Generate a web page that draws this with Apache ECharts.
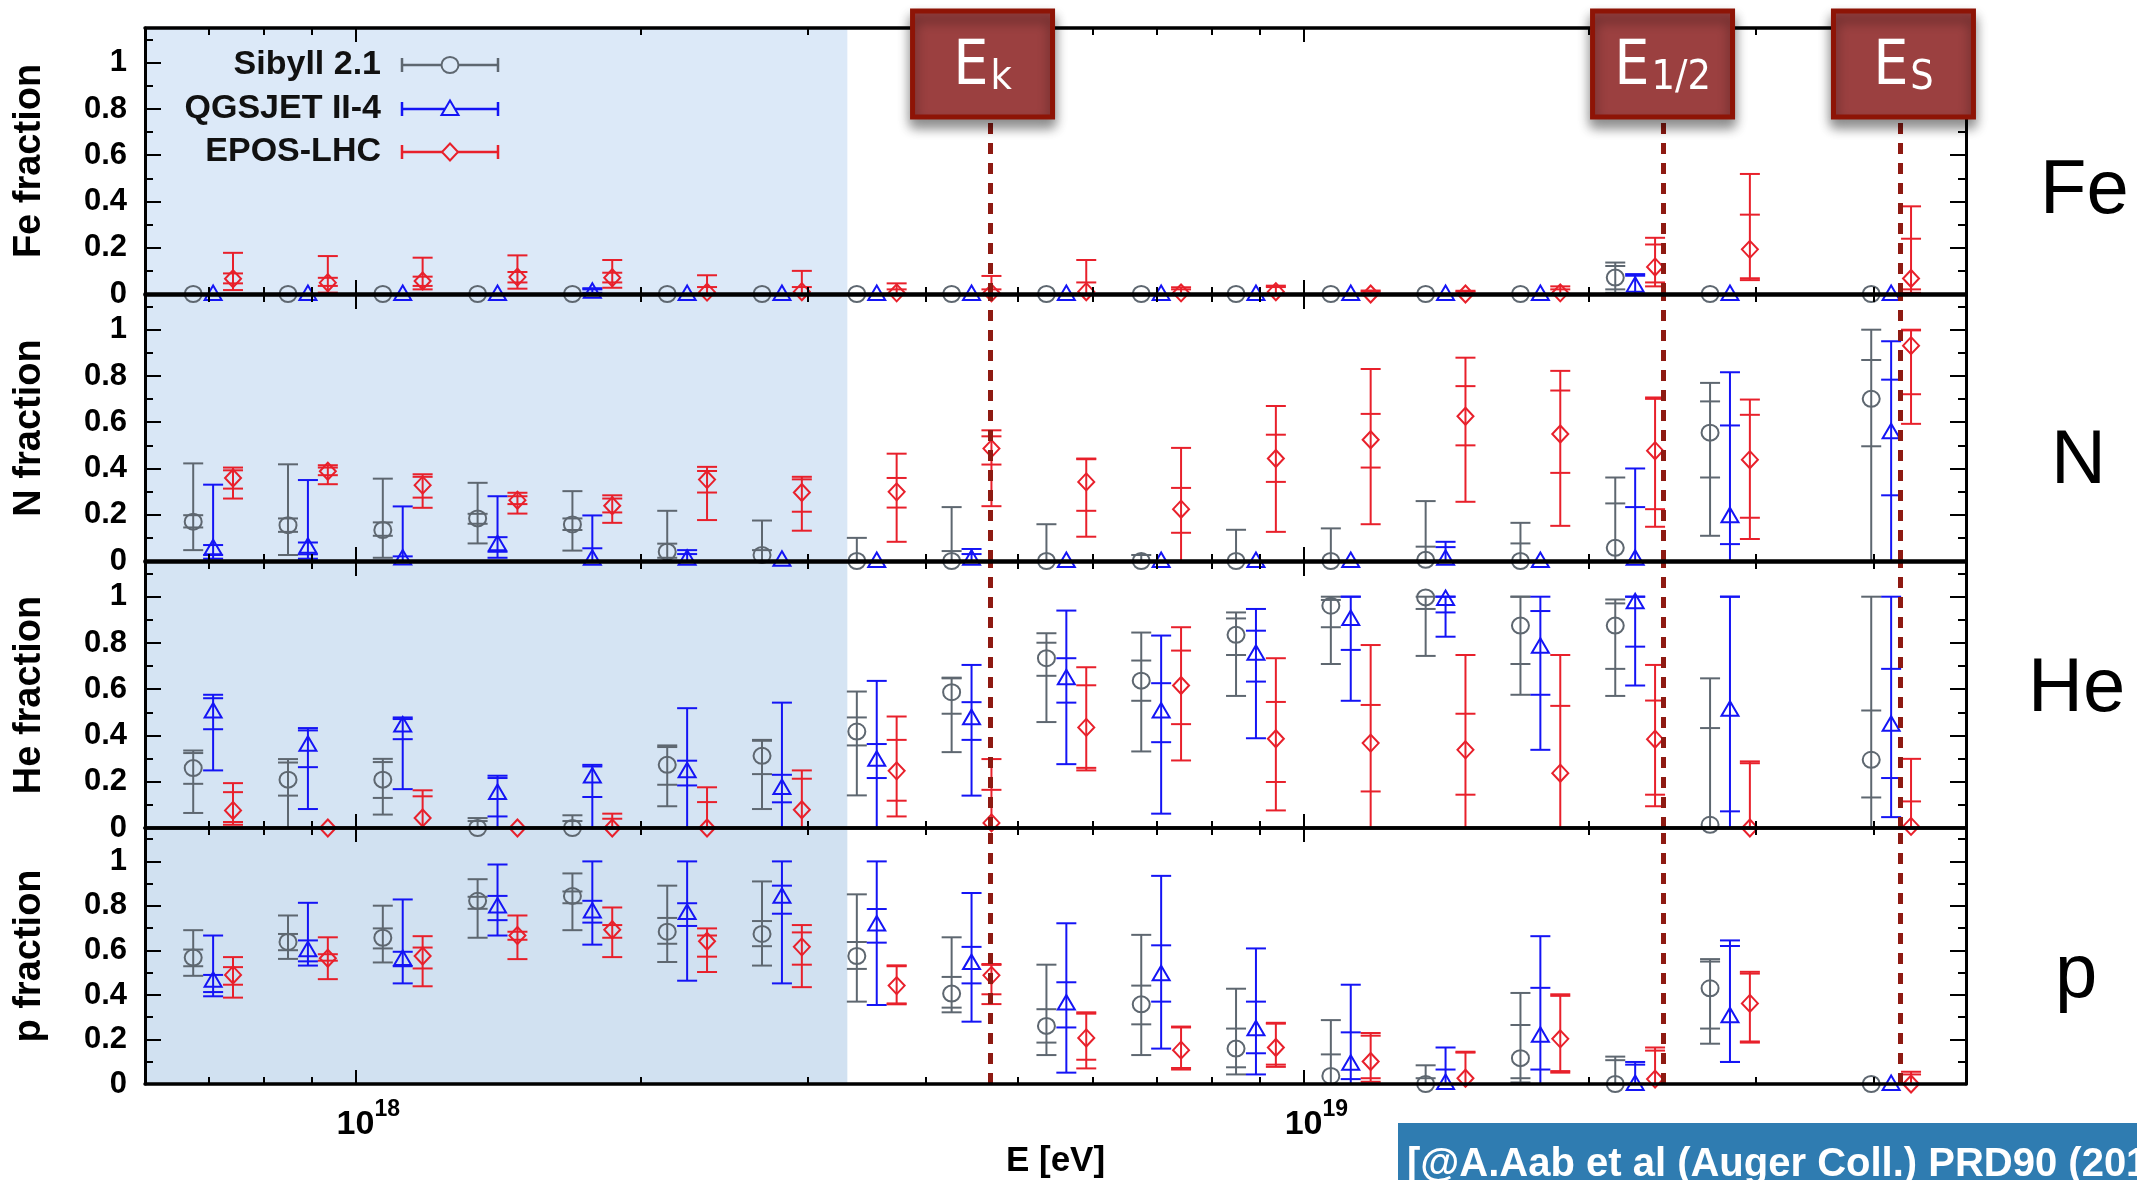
<!DOCTYPE html>
<html>
<head>
<meta charset="utf-8">
<script src="https://cdn.jsdelivr.net/npm/echarts@6/dist/echarts.min.js"></script>
<style>
  html, body { margin: 0; padding: 0; background: #fff; }
  #chart { width: 2137px; height: 1180px; }
</style>
</head>
<body>
<div id="chart"></div>
<script>
// Energy bins, log10(E/eV) bin centres
const lgE = [17.85, 17.95, 18.05, 18.15, 18.25, 18.35, 18.45, 18.55, 18.65,
             18.75, 18.85, 18.95, 19.05, 19.15, 19.25, 19.35, 19.45, 19.62];

const models = ['Sibyll 2.1', 'QGSJET II-4', 'EPOS-LHC'];
const panels = ['Fe', 'N', 'He', 'p'];

// Each point: [fraction, statLow, statHigh, totalLow, totalHigh]
const feSibyll = [[0,0,0,0,0],[0,0,0,0,0],[0,0,0,0,0],[0,0,0,0,0],[0,0,0,0,0],[0,0,0,0,0],
  [0,0,0,0,0],[0,0,0,0,0],[0,0,0,0,0],[0,0,0,0,0],[0,0,0,0,0],[0,0,0,0,0],[0,0,0,0,0],
  [0,0,0,0,0],[0,0,0,0,0],[0.071,0.02,0.121,0.005,0.136],[0,0,0,0,0],[0,0,0,0,0]];
const feQgsjet = [[0,0,0,0,0],[0,0,0,0,0],[0,0,0,0,0],[0,0,0,0,0],[0.01,0.005,0.02,0,0.025],
  [0,0,0,0,0],[0,0,0,0,0],[0,0,0,0,0],[0,0,0,0,0],[0,0,0,0,0],[0,0,0,0,0],[0,0,0,0,0],
  [0,0,0,0,0],[0,0,0,0,0],[0,0,0,0,0],[0.036,0,0.079,0,0.086],[0,0,0,0,0],[0,0,0,0,0]];
const feEpos = [[0.066,0.046,0.089,0.017,0.178],[0.049,0.035,0.07,0.006,0.164],
  [0.056,0.035,0.075,0.02,0.157],[0.073,0.05,0.095,0.023,0.167],[0.07,0.05,0.092,0.027,0.147],
  [0.008,0,0.03,0,0.081],[0.01,0,0.03,0,0.1],[0.005,0,0.02,0,0.046],[0.005,0,0.02,0,0.078],
  [0.01,0,0.05,0,0.147],[0.005,0,0.02,0,0.029],[0.01,0,0.03,0,0.036],[0,0,0.01,0,0.015],
  [0,0,0.01,0,0.014],[0.005,0,0.02,0,0.033],[0.117,0.05,0.214,0.033,0.243],
  [0.193,0.068,0.343,0.06,0.519],[0.067,0.02,0.239,0.005,0.379]];

const nSibyll = [[0.17,0.145,0.198,0.047,0.422],[0.155,0.126,0.184,0.026,0.418],
  [0.134,0.109,0.167,0.014,0.356],[0.184,0.161,0.204,0.076,0.338],[0.158,0.134,0.184,0.045,0.302],
  [0.04,0.014,0.075,0,0.217],[0.026,0,0.047,0,0.175],[0,0,0,0,0.1],[0,0,0.043,0,0.233],
  [0,0,0,0,0.159],[0,0,0,0,0.026],[0,0,0,0,0.135],[0,0,0,0,0.141],[0.005,0,0.062,0,0.259],
  [0,0,0.076,0,0.165],[0.057,0,0.249,0,0.361],[0.555,0.361,0.69,0.109,0.77],
  [0.701,0.496,0.869,0,1.0]];
const nQgsjet = [[0.055,0.026,0.069,0.01,0.33],[0.062,0.029,0.08,0.01,0.35],
  [0.011,0,0.02,0,0.236],[0.072,0.04,0.103,0.014,0.28],[0.01,0,0.055,0,0.197],
  [0.01,0,0.03,0,0.047],[0.005,0,0,0,0],[0,0,0,0,0],[0.01,0,0.03,0,0.052],[0,0,0,0,0],
  [0,0,0,0,0],[0,0,0,0,0],[0,0,0,0,0],[0.01,0,0.06,0,0.083],[0,0,0,0,0],
  [0.01,0,0.233,0,0.4],[0.194,0.073,0.586,0,0.816],[0.557,0.284,0.784,0,0.95]];
const nEpos = [[0.359,0.313,0.392,0.27,0.404],[0.388,0.371,0.404,0.332,0.414],
  [0.328,0.274,0.364,0.23,0.375],[0.263,0.246,0.28,0.205,0.295],[0.239,0.21,0.27,0.165,0.284],
  [0.352,0.296,0.389,0.177,0.407],[0.296,0.213,0.353,0.131,0.364],[0.299,0.231,0.359,0.083,0.464],
  [0.486,0.417,0.539,0.237,0.565],[0.342,0.217,0.44,0.105,0.443],[0.224,0.122,0.316,0,0.489],
  [0.443,0.342,0.546,0.126,0.67],[0.524,0.404,0.636,0.159,0.83],[0.626,0.5,0.756,0.256,0.879],
  [0.549,0.381,0.737,0.152,0.822],[0.477,0.224,0.701,0.148,0.707],[0.438,0.187,0.632,0.095,0.698],
  [0.931,0.721,0.997,0.593,1.0]];

const heSibyll = [[0.259,0.191,0.324,0.065,0.335],[0.209,0.14,0.283,0,0.298],
  [0.209,0.13,0.285,0.058,0.299],[0,0,0.03,0,0.043],[0,0,0.03,0,0.055],
  [0.273,0.187,0.35,0.094,0.357],[0.312,0.233,0.377,0.082,0.381],[0.417,0.357,0.478,0.141,0.59],
  [0.587,0.494,0.647,0.328,0.65],[0.734,0.658,0.801,0.458,0.842],[0.637,0.55,0.724,0.331,0.845],
  [0.835,0.748,0.906,0.571,0.932],[0.961,0.868,0.986,0.709,1.0],[0.997,0.947,1.0,0.744,1.0],
  [0.875,0.709,1.0,0.576,1.0],[0.875,0.688,0.971,0.571,0.988],[0.014,0,0.432,0,0.647],
  [0.295,0.132,0.508,0,1.0]];
const heQgsjet = [[0.504,0.427,0.561,0.249,0.576],[0.36,0.263,0.422,0.082,0.432],
  [0.443,0.384,0.471,0.168,0.478],[0.151,0.05,0.216,0,0.226],[0.223,0.134,0.266,0,0.273],
  [0.245,0.184,0.291,0,0.518],[0.173,0.111,0.23,0,0.542],[0.295,0.216,0.363,0,0.636],
  [0.475,0.381,0.544,0.14,0.705],[0.647,0.542,0.734,0.276,0.94],[0.504,0.371,0.626,0.062,0.832],
  [0.753,0.633,0.853,0.388,0.947],[0.904,0.77,1.0,0.55,1.0],[0.99,0.932,1.0,0.827,1.0],
  [0.784,0.576,0.938,0.338,1.0],[0.976,0.784,1.0,0.616,1.0],[0.511,0.072,1.0,0,1.0],
  [0.446,0.216,0.688,0.047,1.0]];
const heEpos = [[0.076,0.026,0.155,0.014,0.194],[0,0,0,0,0],[0.043,0,0.137,0,0.163],
  [0,0,0,0,0],[0,0,0.04,0,0.062],[0,0,0.112,0,0.176],[0.079,0,0.213,0,0.249],
  [0.247,0.118,0.381,0.05,0.482],[0.022,0,0.165,0,0.298],[0.435,0.26,0.617,0.249,0.695],
  [0.616,0.449,0.767,0.292,0.868],[0.386,0.199,0.545,0.076,0.734],[0.367,0.158,0.532,0,0.791],
  [0.338,0.144,0.494,0,0.748],[0.237,0,0.528,0,0.748],[0.384,0.144,0.551,0.094,0.705],
  [0,0,0.28,0,0.288],[0.007,0,0.115,0,0.299]];

const pSibyll = [[0.568,0.529,0.604,0.486,0.691],[0.638,0.601,0.674,0.562,0.757],
  [0.657,0.609,0.699,0.546,0.801],[0.823,0.787,0.841,0.657,0.92],[0.845,0.812,0.865,0.691,0.946],
  [0.684,0.63,0.746,0.548,0.891],[0.674,0.619,0.732,0.532,0.91],[0.575,0.517,0.638,0.37,0.852],
  [0.406,0.343,0.481,0.322,0.659],[0.261,0.186,0.336,0.13,0.536],[0.358,0.268,0.442,0.13,0.67],
  [0.159,0.075,0.249,0.043,0.428],[0.036,0,0.133,0,0.287],[0,0,0.026,0,0.084],
  [0.116,0.026,0.265,0.007,0.409],[0,0,0.107,0,0.123],[0.43,0.249,0.55,0.181,0.561],[0,0,0,0,0]];
const pQgsjet = [[0.464,0.413,0.49,0.394,0.667],[0.601,0.551,0.645,0.532,0.814],
  [0.562,0.529,0.594,0.452,0.829],[0.797,0.736,0.845,0.667,0.986],[0.775,0.725,0.823,0.626,1.0],
  [0.768,0.71,0.812,0.464,1.0],[0.841,0.765,0.891,0.452,1.0],[0.717,0.635,0.786,0.355,1.0],
  [0.543,0.452,0.616,0.28,0.858],[0.362,0.254,0.457,0.051,0.722],[0.493,0.37,0.623,0.159,0.935],
  [0.246,0.138,0.37,0.043,0.609],[0.091,0.022,0.232,0,0.446],[0.005,0,0.065,0,0.164],
  [0.217,0.065,0.432,0,0.664],[0,0,0.087,0,0.099],[0.304,0.099,0.62,0.099,0.645],[0,0,0,0,0]];
const pEpos = [[0.49,0.446,0.525,0.388,0.57],[0.565,0.554,0.583,0.471,0.659],
  [0.575,0.519,0.613,0.439,0.664],[0.667,0.648,0.684,0.561,0.757],[0.693,0.657,0.714,0.57,0.793],
  [0.641,0.572,0.667,0.503,0.699],[0.616,0.536,0.681,0.435,0.714],[0.442,0.362,0.529,0.358,0.533],
  [0.488,0.403,0.535,0.359,0.539],[0.207,0.109,0.316,0.07,0.322],[0.152,0.072,0.254,0.065,0.258],
  [0.164,0.087,0.271,0.077,0.275],[0.101,0.026,0.217,0.01,0.229],[0.026,0,0.141,0,0.145],
  [0.203,0.058,0.396,0.051,0.403],[0.022,0,0.15,0,0.164],[0.362,0.191,0.496,0.186,0.504],
  [0,0,0.043,0,0.055]];

// Characteristic energies (log10 E/eV) and their tags
const markEnergies = [18.669, 19.381, 19.633];
const markTags = ['k', '1/2', 'S'];
// Upper edge of the shaded low-energy band (log10 E/eV)
const shadeEnd = 18.519;

const yTickValues = [0, 0.2, 0.4, 0.6, 0.8, 1];
const yMinorValues = [0.1, 0.3, 0.5, 0.7, 0.9, 1.1];
const xDecades = [18, 19];
const xMinorEnergies = [7e17, 8e17, 9e17, 2e18, 3e18, 4e18, 5e18, 6e18, 7e18, 8e18, 9e18, 2e19, 3e19, 4e19];

const panelData = [
  [feSibyll, feQgsjet, feEpos],
  [nSibyll, nQgsjet, nEpos],
  [heSibyll, heQgsjet, heEpos],
  [pSibyll, pQgsjet, pEpos]
];

// ---------- styling ----------
const X_MIN = Math.log10(6e17), X_MAX = Math.log10(5e19);
const Y_MAX = 1.15;
const FONT = 'Liberation Sans, Arial, sans-serif';
const BOX_FONT = '"Liberation Sans Narrow", "DejaVu Sans Condensed", sans-serif';
const modelColors = ['#5e6770', '#1414f5', '#e8202b'];
const modelShapes = ['circle', 'triangle', 'diamond'];
const modelShift = [-0.021, 0, 0.021];
const shadeColors = ['#dce9f8', '#d9e7f6', '#d5e4f3', '#d1e1f1'];
const gridTops = [28, 295, 562, 828];
const GRID_H = 266;
const xMinors = xMinorEnergies.map(Math.log10);

const xAxes = [], yAxes = [], series = [];

panels.forEach((name, i) => {
  const isBottom = i === panels.length - 1;
  const xBase = {
    type: 'value', gridIndex: i, min: X_MIN, max: X_MAX, z: 5,
    splitLine: { show: false }, axisLabel: { show: false },
    axisLine: { show: false, onZero: false }, axisTick: { show: false }
  };
  const majorTick = { show: true, inside: true, length: 14, customValues: xDecades, lineStyle: { color: '#000', width: 2 } };
  const minorTick = { show: true, inside: true, length: 7, customValues: xMinors, lineStyle: { color: '#000', width: 2 } };
  const frameLine = { show: true, onZero: false, lineStyle: { color: '#000', width: 3.5 } };
  xAxes.push(Object.assign({}, xBase, {
    position: 'bottom', axisLine: frameLine, axisTick: majorTick,
    axisLabel: isBottom ? {
      show: true, customValues: xDecades, margin: 14, padding: [0, 0, 0, 26],
      formatter: v => '{b|10}{s|' + Math.round(v) + '}',
      rich: {
        b: { fontSize: 34, fontWeight: 'bold', fontFamily: FONT, color: '#000', lineHeight: 44, verticalAlign: 'bottom' },
        s: { fontSize: 23, fontWeight: 'bold', fontFamily: FONT, color: '#000', lineHeight: 44, verticalAlign: 'top' }
      }
    } : { show: false },
    name: isBottom ? 'E [eV]' : '', nameLocation: 'middle', nameGap: 60,
    nameTextStyle: { fontSize: 35, fontWeight: 'bold', fontFamily: FONT, color: '#000' }
  }));
  xAxes.push(Object.assign({}, xBase, { position: 'bottom', axisTick: minorTick }));
  xAxes.push(Object.assign({}, xBase, { position: 'top', axisLine: frameLine, axisTick: majorTick }));
  xAxes.push(Object.assign({}, xBase, { position: 'top', axisTick: minorTick }));

  const yBase = {
    type: 'value', gridIndex: i, min: 0, max: Y_MAX, z: 5,
    splitLine: { show: false }, axisLabel: { show: false },
    axisLine: { show: false, onZero: false }, axisTick: { show: false }
  };
  const yMajor = { show: true, inside: true, length: 16, customValues: yTickValues, lineStyle: { color: '#000', width: 2 } };
  const yMinor = { show: true, inside: true, length: 8, customValues: yMinorValues, lineStyle: { color: '#000', width: 2 } };
  const yLine = { show: true, onZero: false, lineStyle: { color: '#000', width: 3 } };
  yAxes.push(Object.assign({}, yBase, {
    position: 'left', axisLine: yLine, axisTick: yMajor,
    axisLabel: { show: true, customValues: yTickValues, margin: 18, fontSize: 31, fontWeight: 'bold', fontFamily: FONT, color: '#000' },
    name: name + ' fraction', nameLocation: 'middle', nameRotate: 90, nameGap: 96,
    nameTextStyle: { fontSize: 38, fontWeight: 'bold', fontFamily: FONT, color: '#000' }
  }));
  yAxes.push(Object.assign({}, yBase, { position: 'left', axisTick: yMinor }));
  yAxes.push(Object.assign({}, yBase, { position: 'right', axisLine: yLine, axisTick: yMajor }));
  yAxes.push(Object.assign({}, yBase, { position: 'right', axisTick: yMinor }));

  // shaded band and characteristic energy lines
  series.push({
    type: 'scatter', xAxisIndex: i * 4, yAxisIndex: i * 4, data: [], silent: true, z: 1,
    markArea: {
      silent: true,
      itemStyle: { color: shadeColors[i] },
      data: [[{ xAxis: X_MIN, yAxis: 0 }, { xAxis: shadeEnd, yAxis: Y_MAX }]]
    }
  });
  series.push({
    type: 'scatter', xAxisIndex: i * 4, yAxisIndex: i * 4, data: [], silent: true, z: 4,
    markLine: {
      silent: true, symbol: 'none', label: { show: false },
      lineStyle: { color: '#8e1a12', width: 5, type: [11, 9] },
      data: markEnergies.map(v => ({ xAxis: v }))
    }
  });

  panelData[i].forEach((rows, m) => {
    series.push({
      type: 'custom', name: models[m], xAxisIndex: i * 4, yAxisIndex: i * 4, z: 3,
      data: rows.map((r, j) => [lgE[j] + modelShift[m]].concat(r)),
      renderItem: makeErrorBar(modelColors[m], modelShapes[m])
    });
  });
});

function makeErrorBar(color, shape) {
  return function (params, api) {
    const x = api.value(0);
    const c = api.coord([x, api.value(1)]);
    const yOf = v => api.coord([x, v])[1];
    const iLo = yOf(api.value(2)), iHi = yOf(api.value(3));
    const oLo = yOf(api.value(4)), oHi = yOf(api.value(5));
    const cx = c[0], cy = c[1], hw = 10;
    const st = { stroke: color, lineWidth: 2, fill: null };
    const seg = (x1, y1, x2, y2) => ({ type: 'line', shape: { x1, y1, x2, y2 }, style: st });
    const kids = [];
    if (Math.abs(oLo - oHi) > 0.5) {
      kids.push(seg(cx, oHi, cx, oLo));
      kids.push(seg(cx - hw, oHi, cx + hw, oHi));
      kids.push(seg(cx - hw, oLo, cx + hw, oLo));
      if (Math.abs(iHi - cy) > 1) kids.push(seg(cx - hw, iHi, cx + hw, iHi));
      if (Math.abs(iLo - cy) > 1) kids.push(seg(cx - hw, iLo, cx + hw, iLo));
    }
    kids.push(markerShape(shape, cx, cy, color));
    return { type: 'group', children: kids };
  };
}

function markerShape(shape, cx, cy, color) {
  const st = { stroke: color, lineWidth: 2, fill: null };
  if (shape === 'circle') {
    return { type: 'ellipse', shape: { cx, cy, rx: 8.5, ry: 8 }, style: st };
  }
  if (shape === 'triangle') {
    return { type: 'polygon', shape: { points: [[cx, cy - 8.5], [cx - 8.5, cy + 6], [cx + 8.5, cy + 6]] }, style: st };
  }
  return { type: 'polygon', shape: { points: [[cx, cy - 8.5], [cx + 8, cy], [cx, cy + 8.5], [cx - 8, cy]] }, style: st };
}

const chart = echarts.init(document.getElementById('chart'), null, { renderer: 'canvas' });
chart.setOption({
  animation: false,
  backgroundColor: '#fff',
  grid: panels.map((p, i) => ({ left: 145, right: 171, top: gridTops[i], height: GRID_H, show: false })),
  xAxis: xAxes,
  yAxis: yAxes,
  series: series
});

// ---------- overlays: legend, tags, element labels, reference ----------
const graphics = [];

// legend with horizontal error-bar samples
const legendY = [65, 109, 152];
models.forEach((m, k) => {
  const y = legendY[k], col = modelColors[k];
  const st = { stroke: col, lineWidth: 2.5, fill: null };
  graphics.push({ type: 'text', x: 381, y: y, z: 20,
    style: { text: m, fill: '#111', font: 'bold 34px ' + FONT, textAlign: 'right', textVerticalAlign: 'middle' } });
  graphics.push({ type: 'line', z: 20, shape: { x1: 402, y1: y, x2: 498, y2: y }, style: st });
  graphics.push({ type: 'line', z: 20, shape: { x1: 402, y1: y - 7, x2: 402, y2: y + 7 }, style: st });
  graphics.push({ type: 'line', z: 20, shape: { x1: 498, y1: y - 7, x2: 498, y2: y + 7 }, style: st });
  const mk = markerShape(modelShapes[k], 450, y, col);
  mk.z = 21;
  mk.style = Object.assign({}, mk.style, { fill: shadeColors[0] });
  graphics.push(mk);
});

// tag boxes above the characteristic energy lines
const boxOffsets = [-7, -2, 0];
markEnergies.forEach((v, k) => {
  const px = chart.convertToPixel({ xAxisIndex: 0 }, v) + boxOffsets[k];
  graphics.push({
    type: 'rect', z: 30,
    shape: { x: px - 70, y: 11, width: 140, height: 106 },
    style: { fill: '#9b4040', stroke: '#8e1406', lineWidth: 5,
      shadowBlur: 12, shadowOffsetY: 8, shadowColor: 'rgba(0,0,0,0.45)' }
  });
  graphics.push({
    type: 'text', z: 31, x: px, y: 66,
    style: {
      text: '{e|E}{s|' + markTags[k] + '}',
      textAlign: 'center', textVerticalAlign: 'middle',
      rich: {
        e: { fontSize: 62, fontFamily: BOX_FONT, fill: '#fff', color: '#fff', verticalAlign: 'bottom', lineHeight: 66 },
        s: { fontSize: 41, fontFamily: BOX_FONT, fill: '#fff', color: '#fff', verticalAlign: 'bottom', lineHeight: 66, padding: [0, 0, 0, 2] }
      }
    }
  });
});

// element labels on the right
const elemLabelPos = [[2040, 192], [2051, 462], [2028, 690], [2055, 976]];
panels.forEach((p, i) => {
  graphics.push({ type: 'text', z: 20, x: elemLabelPos[i][0], y: elemLabelPos[i][1],
    style: { text: p, fill: '#000', font: '76px ' + FONT, textAlign: 'left', textVerticalAlign: 'middle' } });
});

// reference banner
graphics.push({ type: 'rect', z: 20, shape: { x: 1398, y: 1123, width: 739, height: 57 }, style: { fill: '#2f7cb1' } });
graphics.push({ type: 'text', z: 21, x: 1407, y: 1165,
  style: { text: '[@A.Aab et al (Auger Coll.) PRD90 (2014)]', fill: '#fff', font: 'bold 40px ' + FONT,
    textAlign: 'left', textVerticalAlign: 'middle' } });

chart.setOption({ graphic: graphics });
</script>
</body>
</html>
